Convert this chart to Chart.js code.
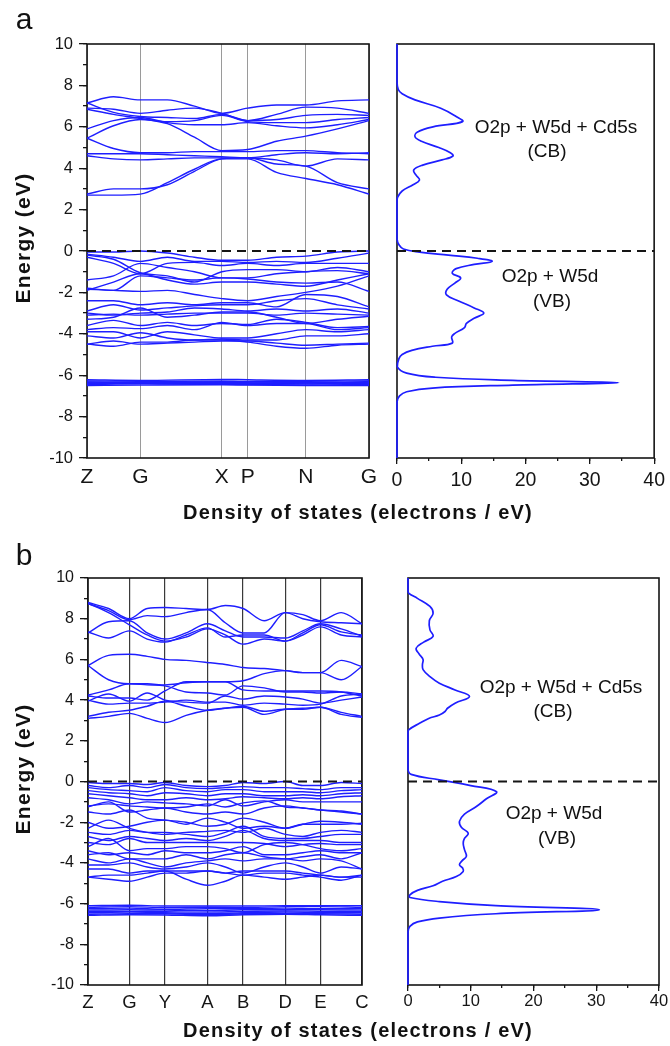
<!DOCTYPE html>
<html>
<head>
<meta charset="utf-8">
<script src="https://cdn.jsdelivr.net/npm/chart.js@4.4.0/dist/chart.umd.min.js"></script>
<style>
  body { margin: 0; background: #fff; }
  #page { position: relative; width: 670px; height: 1046px; overflow: hidden; font-family: Arial, "Liberation Sans", sans-serif; color: #111; }
  canvas { position: absolute; left: 0; top: 0; }
  .t { position: absolute; white-space: nowrap; line-height: 1; transform: translate(-50%, -50%); }
  .ttl { font-weight: bold; font-size: 20px; letter-spacing: 1.2px; }
  .vt { transform: translate(-50%, -50%) rotate(-90deg); font-size: 21px; letter-spacing: 1.3px; }
  .ann { font-size: 19px; }
</style>
</head>
<body>
<div id="page">
  <canvas id="bandA" width="670" height="1046"></canvas>
  <canvas id="dosA" width="670" height="1046"></canvas>
  <canvas id="bandB" width="670" height="1046"></canvas>
  <canvas id="dosB" width="670" height="1046"></canvas>

  <div class="t" style="left:24px;top:19px;font-size:30px">a</div>
  <div class="t" style="left:24px;top:555px;font-size:30px">b</div>

  <div class="t ttl vt" style="left:22px;top:238px">Energy (eV)</div>
  <div class="t ttl vt" style="left:22px;top:769px">Energy (eV)</div>
  <div class="t ttl" style="left:358px;top:512px">Density of states (electrons / eV)</div>
  <div class="t ttl" style="left:358px;top:1030px">Density of states (electrons / eV)</div>

  <div class="t ann" style="left:556px;top:126px">O2p + W5d + Cd5s</div>
  <div class="t ann" style="left:547px;top:150px">(CB)</div>
  <div class="t ann" style="left:550px;top:275px">O2p + W5d</div>
  <div class="t ann" style="left:552px;top:300px">(VB)</div>

  <div class="t ann" style="left:561px;top:686px">O2p + W5d + Cd5s</div>
  <div class="t ann" style="left:553px;top:710px">(CB)</div>
  <div class="t ann" style="left:554px;top:812px">O2p + W5d</div>
  <div class="t ann" style="left:557px;top:837px">(VB)</div>
</div>

<script>
// ---- panel a : band structure along Z-G-X-P-N-G ----
const kTicksA = [0, 0.189, 0.478, 0.570, 0.776, 1];
const kLabelsA = ['Z', 'G', 'X', 'P', 'N', 'G'];
const kPathA = [0, 0.094, 0.189, 0.285, 0.381, 0.478, 0.570, 0.672, 0.776, 0.888, 1];

const condA = [
  [7.15, 7.45, 7.3, 7.3, 7.0, 6.65, 6.9, 7.05, 7.05, 7.25, 7.3],
  [6.9, 6.85, 6.65, 6.8, 6.9, 6.65, 6.3, 6.6, 6.95, 6.9, 6.65],
  [7.15, 6.7, 6.5, 6.45, 6.4, 6.6, 6.3, 6.35, 6.55, 6.6, 6.55],
  [5.9, 6.3, 6.45, 6.2, 6.1, 6.1, 6.2, 6.05, 5.95, 6.1, 6.35],
  [5.45, 6.05, 6.35, 6.25, 6.3, 6.55, 6.25, 6.2, 6.2, 6.35, 6.45],
  [6.85, 6.6, 6.4, 6.15, 5.5, 4.85, 4.9, 5.3, 5.55, 5.9, 6.3],
  [5.45, 4.95, 4.75, 4.75, 4.8, 4.8, 4.8, 4.85, 4.85, 4.75, 4.7],
  [4.7, 4.7, 4.7, 4.65, 4.6, 4.55, 4.5, 4.4, 4.1, 4.45, 4.4],
  [4.6, 4.45, 4.4, 4.45, 4.5, 4.5, 4.5, 4.65, 4.75, 4.7, 4.75],
  [2.75, 3.0, 3.0, 3.2, 3.85, 4.45, 4.5, 4.2, 4.1, 3.3, 3.0],
  [2.7, 2.7, 2.75, 3.3, 3.95, 4.45, 4.45, 3.8, 3.5, 3.2, 2.75]
];

const valA = [
  [-0.05, -0.05, 0, -0.1, -0.3, -0.45, -0.45, -0.3, -0.25, -0.05, 0],
  [-0.15, -0.3, -0.5, -0.3, -0.5, -0.5, -0.55, -0.5, -0.55, -0.35, -0.1],
  [-0.3, -0.6, -1.1, -0.6, -0.55, -0.7, -0.6, -0.7, -0.6, -0.6, -0.6],
  [-0.2, -0.4, -1.05, -1.2, -1.5, -1.0, -0.9, -0.9, -1.0, -0.8, -1.0],
  [-1.4, -1.2, -0.6, -0.8, -1.0, -1.3, -1.3, -1.1, -1.0, -0.95, -1.1],
  [-1.9, -1.5, -1.1, -1.4, -1.6, -1.5, -1.5, -1.6, -1.7, -1.4, -1.1],
  [-1.8, -1.9, -1.2, -1.3, -1.4, -1.3, -1.35, -1.5, -1.55, -1.5, -1.95],
  [-1.85, -1.9, -1.95, -1.9, -2.1, -2.3, -2.4, -2.2, -2.0, -1.7, -1.2],
  [-2.4, -2.4, -2.6, -2.5, -2.6, -2.5, -2.5, -2.7, -2.1, -2.2, -2.7],
  [-2.9, -2.6, -2.85, -2.75, -2.65, -2.6, -2.6, -2.4, -2.3, -2.6, -2.8],
  [-3.0, -3.1, -3.0, -2.95, -2.75, -2.8, -2.9, -2.8, -2.9, -2.8, -3.0],
  [-3.1, -3.05, -3.1, -3.05, -3.0, -3.0, -3.0, -3.1, -3.0, -3.05, -3.1],
  [-3.3, -3.2, -2.75, -3.2, -3.1, -2.95, -2.95, -3.2, -3.5, -3.3, -3.15],
  [-3.6, -3.35, -3.6, -3.45, -3.6, -3.5, -3.55, -3.3, -3.45, -3.7, -3.65],
  [-3.8, -3.7, -3.75, -3.6, -3.8, -3.45, -3.6, -3.5, -3.5, -3.8, -3.7],
  [-3.9, -3.9, -4.2, -3.9, -4.05, -4.2, -4.2, -4.0, -3.8, -3.9, -3.8],
  [-4.1, -4.2, -3.95, -4.2, -4.3, -4.25, -4.3, -4.3, -4.1, -4.1, -4.0],
  [-4.5, -4.35, -4.5, -4.45, -4.4, -4.35, -4.35, -4.45, -4.55, -4.5, -4.45],
  [-4.5, -4.6, -4.4, -4.4, -4.3, -4.3, -4.4, -4.6, -4.7, -4.55, -4.5]
];

// flat O/W bands near -6.3 eV, read at the high-symmetry points only
const flatA = [
  [-6.22, -6.25, -6.2, -6.22, -6.25, -6.22],
  [-6.28, -6.3, -6.28, -6.3, -6.3, -6.28],
  [-6.33, -6.35, -6.35, -6.33, -6.35, -6.35],
  [-6.4, -6.38, -6.4, -6.4, -6.38, -6.4],
  [-6.45, -6.42, -6.44, -6.45, -6.43, -6.45],
  [-6.5, -6.48, -6.46, -6.48, -6.5, -6.5],
  [-6.36, -6.4, -6.32, -6.36, -6.42, -6.3]
];

// ---- panel a : total DOS ----
const dosEnergyA = [10, 8.2, 7.8, 7.6, 7.3, 6.9, 6.5, 6.25, 6.0, 5.75, 5.52, 5.3, 5.0, 4.75, 4.59, 4.4, 4.15, 3.91, 3.65, 3.43,
  3.2, 2.9, 2.6, 2.4, 0.6, 0.3, 0.1, -0.05, -0.2, -0.35, -0.5, -0.65, -0.85, -1.08, -1.3, -1.55, -1.85, -2.12, -2.4, -2.75,
  -3.0, -3.25, -3.5, -3.7, -3.98, -4.15, -4.45, -4.6, -4.8, -5.0, -5.2, -5.6, -5.9, -6.1, -6.25, -6.36, -6.48, -6.62, -6.8, -7.0,
  -7.3, -10];
const dosValueA = [0, 0, 0.2, 0.8, 2.8, 6.8, 9.2, 10.2, 5.6, 3.2, 2.8, 3.8, 6.5, 8.3, 8.7, 7.0, 4.0, 2.6, 3.0, 3.5,
  2.5, 0.8, 0.1, 0, 0, 0.3, 1.0, 3.5, 8.0, 12.5, 14.8, 12.0, 9.2, 8.6, 9.9, 9.0, 7.8, 7.7, 9.5, 12.0,
  13.5, 12.0, 10.8, 10.5, 9.0, 8.5, 8.6, 5.5, 2.3, 0.8, 0.3, 0.05, 1.5, 6.0, 18, 34.5, 18, 5.5, 1.5, 0.4,
  0, 0];

// ---- panel b : band structure along Z-G-Y-A-B-D-E-C ----
const kTicksB = [0, 0.151, 0.281, 0.436, 0.566, 0.720, 0.848, 1];
const kLabelsB = ['Z', 'G', 'Y', 'A', 'B', 'D', 'E', 'C'];
const kPathB = [0, 0.075, 0.151, 0.216, 0.281, 0.358, 0.436, 0.501, 0.566, 0.643, 0.720, 0.784, 0.848, 0.924, 1];

const condB = [
  [8.8, 8.5, 8.0, 8.5, 8.55, 8.5, 8.45, 8.65, 8.5, 7.9, 8.3, 8.2, 7.9, 8.3, 7.75],
  [8.75, 8.4, 7.95, 8.15, 8.1, 8.3, 8.45, 7.8, 7.3, 7.3, 8.3, 8.0, 7.85, 7.8, 7.75],
  [8.75, 8.3, 7.7, 7.2, 6.9, 7.1, 7.5, 7.2, 6.75, 7.0, 6.9, 7.3, 7.7, 7.35, 7.2],
  [7.3, 7.85, 7.9, 7.3, 7.0, 7.3, 7.75, 7.4, 7.1, 7.1, 7.05, 7.4, 7.75, 7.5, 7.15],
  [7.35, 7.05, 7.4, 7.0, 6.85, 7.2, 7.55, 7.1, 7.2, 7.2, 6.9, 7.2, 7.6, 7.2, 7.1],
  [5.7, 6.2, 6.25, 6.15, 6.0, 5.95, 5.85, 5.75, 5.6, 5.55, 5.45, 5.35, 5.35, 5.95, 5.65],
  [5.7, 5.0, 4.8, 4.8, 4.75, 4.85, 4.9, 4.9, 4.95, 5.3, 5.45, 5.35, 5.35, 5.0, 5.65],
  [4.25, 4.5, 4.8, 4.75, 4.7, 4.4, 4.35, 4.25, 4.7, 4.6, 4.4, 4.4, 4.35, 4.4, 4.3],
  [4.2, 4.1, 4.1, 4.0, 4.45, 4.9, 4.9, 4.9, 4.5, 4.45, 4.45, 4.45, 4.45, 4.4, 4.2],
  [3.95, 4.3, 3.95, 4.35, 4.0, 3.9, 3.85, 4.2, 4.05, 4.2, 4.15, 4.05, 3.85, 4.0, 4.15],
  [4.0, 3.8, 3.85, 3.85, 3.9, 4.0, 3.9, 3.9, 3.75, 3.85, 3.8, 3.75, 3.8, 4.2, 4.3],
  [3.2, 3.4, 3.5, 3.7, 3.95, 3.7, 3.5, 3.6, 3.7, 3.45, 3.55, 3.55, 3.65, 3.4, 3.2],
  [3.1, 3.2, 3.35, 3.1, 2.9, 3.25, 3.5, 3.6, 3.65, 3.3, 3.55, 3.6, 3.65, 3.3, 3.15]
];

const valB = [
  [-0.05, -0.1, -0.1, -0.15, -0.05, -0.2, -0.25, -0.2, -0.05, -0.1, 0, -0.2, -0.2, -0.05, -0.1],
  [-0.2, -0.3, -0.2, -0.3, -0.15, -0.3, -0.35, -0.3, -0.25, -0.3, -0.3, -0.35, -0.4, -0.3, -0.3],
  [-0.3, -0.4, -0.45, -0.5, -0.3, -0.45, -0.5, -0.4, -0.4, -0.5, -0.5, -0.5, -0.55, -0.45, -0.4],
  [-0.45, -0.55, -0.6, -0.7, -0.55, -0.6, -0.7, -0.6, -0.6, -0.7, -0.7, -0.65, -0.7, -0.6, -0.55],
  [-0.6, -0.7, -0.8, -0.9, -0.9, -0.8, -0.9, -0.85, -0.75, -0.8, -0.85, -0.8, -0.85, -0.75, -0.7],
  [-0.8, -0.9, -1.1, -1.0, -1.05, -1.1, -1.2, -0.9, -1.2, -1.0, -0.9, -1.0, -1.0, -1.0, -1.0],
  [-1.2, -1.1, -1.2, -1.25, -1.3, -1.25, -1.1, -1.25, -1.05, -0.95, -1.25, -1.3, -1.4, -1.45, -1.6],
  [-1.25, -1.0, -1.5, -1.4, -1.3, -1.5, -1.6, -1.5, -1.6, -1.3, -1.2, -1.3, -1.4, -1.5, -1.6],
  [-1.5, -1.6, -1.4, -1.8, -1.9, -2.0, -2.2, -2.1, -1.8, -2.0, -2.3, -2.1, -1.95, -2.0, -2.1],
  [-2.0, -2.3, -2.2, -2.0, -1.9, -2.1, -1.8, -2.0, -2.3, -2.2, -2.3, -2.1, -2.1, -2.1, -2.05],
  [-2.3, -1.9, -2.3, -2.5, -2.6, -2.5, -2.45, -2.4, -2.5, -2.3, -2.6, -2.7, -2.5, -2.4, -2.5],
  [-2.5, -2.6, -2.4, -2.5, -2.5, -2.6, -2.7, -2.5, -2.2, -2.7, -2.8, -2.8, -2.7, -2.6, -2.6],
  [-2.7, -2.9, -2.7, -2.8, -2.9, -2.8, -2.9, -2.7, -2.4, -2.8, -2.9, -2.9, -2.9, -3.0, -3.0],
  [-3.0, -3.1, -2.8, -3.0, -3.0, -3.0, -3.0, -3.0, -3.0, -3.05, -3.2, -3.1, -3.05, -3.1, -3.1],
  [-3.2, -2.8, -3.4, -3.3, -3.3, -3.2, -3.2, -3.3, -3.5, -3.1, -3.0, -3.1, -3.3, -3.4, -3.3],
  [-3.4, -3.6, -3.5, -3.6, -3.4, -3.5, -3.5, -3.4, -3.2, -3.6, -3.6, -3.5, -3.4, -3.5, -3.5],
  [-3.6, -3.5, -3.8, -3.8, -3.8, -3.6, -3.8, -3.6, -3.5, -3.7, -3.8, -3.7, -3.6, -3.8, -3.5],
  [-3.8, -4.0, -3.8, -4.0, -4.2, -4.0, -3.9, -3.8, -3.9, -3.8, -3.8, -3.9, -3.8, -3.9, -4.3],
  [-4.1, -4.1, -4.0, -4.2, -4.3, -4.2, -4.0, -4.2, -4.5, -4.2, -4.0, -4.2, -4.5, -4.2, -4.3],
  [-4.3, -4.3, -4.5, -4.4, -4.4, -4.4, -4.4, -4.5, -4.4, -4.4, -4.4, -4.5, -4.6, -4.7, -4.6],
  [-4.7, -4.6, -4.6, -4.5, -4.4, -4.8, -5.1, -4.9, -4.6, -4.7, -4.8, -4.7, -4.6, -4.7, -4.7],
  [-4.7, -4.8, -4.9, -4.7, -4.5, -4.5, -4.4, -4.5, -4.6, -4.5, -4.5, -4.6, -4.7, -4.85, -4.6]
];

const flatB = [
  [-6.1, -6.08, -6.12, -6.12, -6.12, -6.1, -6.1, -6.1],
  [-6.18, -6.15, -6.2, -6.18, -6.2, -6.15, -6.15, -6.18],
  [-6.25, -6.22, -6.28, -6.25, -6.25, -6.22, -6.25, -6.25],
  [-6.32, -6.3, -6.32, -6.35, -6.3, -6.3, -6.3, -6.32],
  [-6.38, -6.38, -6.4, -6.42, -6.38, -6.36, -6.38, -6.4],
  [-6.45, -6.42, -6.45, -6.5, -6.45, -6.42, -6.44, -6.45],
  [-6.52, -6.5, -6.5, -6.55, -6.5, -6.48, -6.5, -6.52],
  [-6.58, -6.55, -6.56, -6.6, -6.55, -6.52, -6.55, -6.58]
];

// ---- panel b : total DOS ----
const dosEnergyB = [10, 9.4, 9.26, 9.0, 8.6, 8.27, 7.9, 7.45, 7.13, 6.85, 6.55, 6.25, 6.0, 5.75, 5.5, 5.15, 4.83, 4.5, 4.18, 3.85,
  3.6, 3.44, 3.27, 3.1, 2.87, 2.54, 2.4, 0.6, 0.35, 0.08, -0.2, -0.5, -0.85, -1.23, -1.6, -1.96, -2.25, -2.54, -2.8, -3.03,
  -3.35, -3.68, -3.9, -4.09, -4.25, -4.42, -4.67, -4.9, -5.12, -5.35, -5.57, -5.7, -5.9, -6.1, -6.3, -6.5, -6.71, -6.9, -7.12, -7.4,
  -10];
const dosValueB = [0, 0, 0.1, 1.5, 3.5, 4.0, 3.4, 3.5, 4.0, 2.5, 1.3, 1.8, 2.4, 2.3, 2.4, 3.5, 5.0, 7.5, 9.8, 7.5,
  6.3, 5.9, 5.0, 3.3, 1.9, 0.1, 0, 0, 0.5, 5.0, 10.0, 14.1, 12.5, 10.9, 9.0, 8.2, 8.5, 9.6, 9.0, 8.8,
  9.0, 9.3, 8.6, 8.2, 8.7, 8.8, 7.7, 5.5, 4.0, 1.5, 0.3, 0.3, 5.0, 14, 30.5, 14, 5.0, 1.5, 0.3, 0,
  0];

const fermiLevel = 0;
const energyMin = -10, energyMax = 10;
const dosMax = 40;

const bandColor = 'rgb(30,30,255)';
const inkColor = '#151515';
Chart.defaults.font.family = 'Arial, "Liberation Sans", sans-serif';
Chart.defaults.color = inkColor;

const frame = {
  id: 'frame',
  beforeDatasetsDraw(chart) {
    const a = chart.chartArea, c = chart.ctx;
    c.save();
    c.strokeStyle = inkColor;
    c.lineWidth = 1.6;
    c.strokeRect(a.left, a.top, a.right - a.left, a.bottom - a.top);
    c.restore();
  }
};

function bandSets(kx, bands) {
  return bands.map(b => ({
    data: b.map((e, i) => ({ x: kx[i], y: e })),
    showLine: true,
    borderColor: bandColor,
    borderWidth: 1.4,
    pointRadius: 0,
    cubicInterpolationMode: 'monotone'
  }));
}

function fermiSet(xmax) {
  return {
    data: [{ x: 0, y: fermiLevel }, { x: xmax, y: fermiLevel }],
    showLine: true, borderColor: inkColor, borderWidth: 2.2, borderDash: [9, 6], pointRadius: 0, order: -1
  };
}

function bandChart(id, sets, kTicks, kLabels, box, st) {
  new Chart(document.getElementById(id), {
    type: 'scatter',
    data: { datasets: sets },
    options: {
      responsive: false, maintainAspectRatio: false, animation: false, devicePixelRatio: 1,
      layout: { padding: { left: box.l - st.yw, top: box.t, right: 670 - box.r, bottom: 1046 - box.b - st.xh } },
      plugins: { legend: { display: false }, tooltip: { enabled: false } },
      scales: {
        x: {
          type: 'linear', min: 0, max: 1, position: 'bottom', weight: 1,
          afterBuildTicks: s => { s.ticks = kTicks.map(v => ({ value: v })); },
          afterFit: s => { s.height = st.xh; },
          grid: { drawTicks: false, color: st.vline, lineWidth: st.vlw },
          border: { display: false },
          ticks: { autoSkip: false, maxRotation: 0, padding: st.kpad, font: { size: st.kfont }, callback: (v, i) => kLabels[i] }
        },
        y: {
          type: 'linear', min: energyMin, max: energyMax, position: 'left', weight: 1,
          afterFit: s => { s.width = st.yw; },
          grid: { drawOnChartArea: false, tickLength: 8, color: inkColor, lineWidth: 1.3 },
          border: { display: false },
          ticks: { stepSize: 2, padding: st.ypad, font: { size: st.yfont } }
        },
        yMinor: {
          type: 'linear', min: energyMin, max: energyMax, position: 'left', weight: 0,
          afterFit: s => { s.width = 0; },
          grid: { drawOnChartArea: false, tickLength: 4, color: inkColor, lineWidth: 1.3 },
          border: { display: false },
          ticks: { stepSize: 1, display: false }
        }
      }
    },
    plugins: [frame]
  });
}

function dosChart(id, energies, values, box, st) {
  new Chart(document.getElementById(id), {
    type: 'scatter',
    data: {
      datasets: [
        fermiSet(dosMax),
        {
          data: energies.map((e, i) => ({ x: values[i], y: e })),
          showLine: true, borderColor: bandColor, borderWidth: 1.7, pointRadius: 0, tension: 0.4, clip: 3
        }
      ]
    },
    options: {
      responsive: false, maintainAspectRatio: false, animation: false, devicePixelRatio: 1,
      layout: { padding: { left: box.l, top: box.t, right: 670 - box.r, bottom: 1046 - box.b - st.xh } },
      plugins: { legend: { display: false }, tooltip: { enabled: false } },
      scales: {
        x: {
          type: 'linear', min: 0, max: dosMax, position: 'bottom', weight: 1,
          afterFit: s => { s.height = st.xh; },
          grid: { drawOnChartArea: false, tickLength: 6, color: inkColor, lineWidth: 1.3 },
          border: { display: false },
          ticks: { stepSize: 10, padding: st.pad, font: { size: st.font } }
        },
        xMinor: {
          type: 'linear', min: 0, max: dosMax, position: 'bottom', weight: 0,
          afterFit: s => { s.height = 0; },
          grid: { drawOnChartArea: false, tickLength: 3, color: inkColor, lineWidth: 1.3 },
          border: { display: false },
          ticks: { stepSize: 5, display: false }
        },
        y: { type: 'linear', min: energyMin, max: energyMax, display: false }
      }
    },
    plugins: [frame]
  });
}

bandChart('bandA',
  [fermiSet(1)].concat(bandSets(kPathA, condA), bandSets(kPathA, valA), bandSets(kTicksA, flatA)),
  kTicksA, kLabelsA,
  { l: 87, r: 369, t: 44, b: 458 },
  { yw: 50, xh: 34, kpad: 7, kfont: 21, ypad: 6, yfont: 16.5, vline: '#9a9a9a', vlw: 1 });

dosChart('dosA', dosEnergyA, dosValueA,
  { l: 397, r: 658, t: 44, b: 458 },
  { xh: 34, pad: 5, font: 19.5 });

bandChart('bandB',
  [fermiSet(1)].concat(bandSets(kPathB, condB), bandSets(kPathB, valB), bandSets(kTicksB, flatB)),
  kTicksB, kLabelsB,
  { l: 88, r: 362, t: 578, b: 985 },
  { yw: 50, xh: 30, kpad: 7, kfont: 18.5, ypad: 6, yfont: 16, vline: '#3a3a3a', vlw: 1.2 });

dosChart('dosB', dosEnergyB, dosValueB,
  { l: 408, r: 659, t: 578, b: 985 },
  { xh: 30, pad: 1, font: 16.5 });
</script>
</body>
</html>
